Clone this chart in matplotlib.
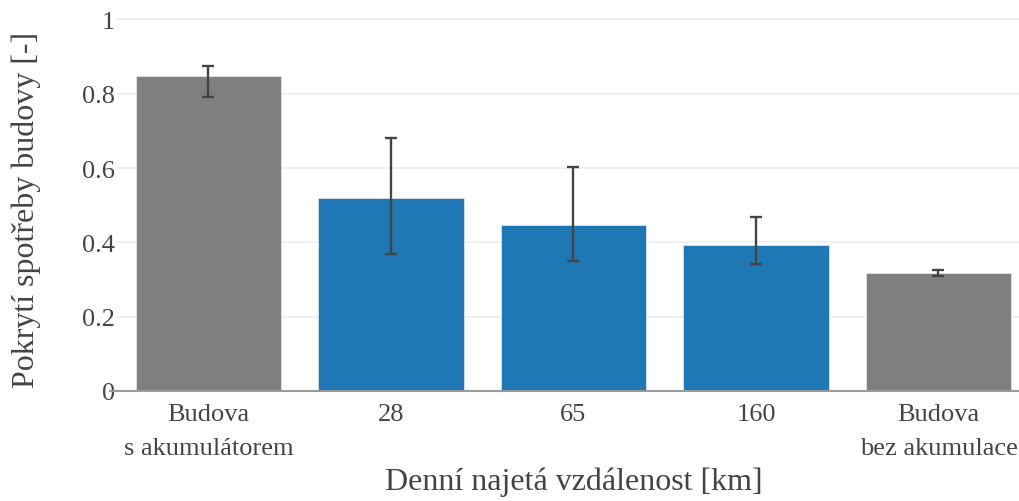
import matplotlib
matplotlib.use("Agg")
import matplotlib.pyplot as plt
from matplotlib.lines import Line2D
import numpy as np

# Data
categories = ["Budova\ns akumulátorem", "28", "65", "160", "Budova\nbez akumulace"]
coverage = [0.849, 0.519, 0.447, 0.393, 0.317]
err_upper = [0.875, 0.681, 0.603, 0.469, 0.325]
err_lower = [0.792, 0.369, 0.349, 0.341, 0.310]
bar_colors = ["#7f7f7f", "#1f77b4", "#1f77b4", "#1f77b4", "#7f7f7f"]
y_ticks = [0, 0.2, 0.4, 0.6, 0.8, 1.0]
y_tick_labels = ["0", "0.2", "0.4", "0.6", "0.8", "1"]

plt.rcParams["font.family"] = ["Liberation Serif", "DejaVu Serif"]
text_color = "#444444"

fig = plt.figure(figsize=(10.2, 5.02), dpi=100)
ax = fig.add_axes([117.25 / 1020, 110 / 502, 912.5 / 1020, 382.7 / 502])

x = np.arange(len(categories))
vals = np.array(coverage)
yerr = np.vstack([vals - np.array(err_lower), np.array(err_upper) - vals])

ax.bar(x, vals, width=0.795, color=bar_colors, edgecolor="#e8eef5",
       linewidth=0.5, zorder=2)
ax.errorbar(x, vals, yerr=yerr, fmt="none", ecolor="#444444",
            elinewidth=1.7, capsize=4.5, capthick=1.7, zorder=3)

ax.set_xlim(-0.5, 4.5)
ax.set_ylim(0, 1.03)
ax.set_yticks(y_ticks)
ax.set_yticklabels(y_tick_labels)
ax.set_xticks(x)
ax.set_xticklabels(categories, linespacing=1.72)

ax.grid(axis="y", color="#eeeeee", linewidth=1.2, zorder=0)
ax.set_axisbelow(True)
for side in ["top", "right", "left", "bottom"]:
    ax.spines[side].set_visible(False)

# zero line, extended slightly to the left as a tick
ax.add_line(Line2D([-0.008, 1.0], [0, 0], transform=ax.transAxes,
                   color="#9a9a9a", linewidth=1.5, clip_on=False, zorder=4))

ax.tick_params(axis="both", length=0, labelsize=19, colors=text_color)
ax.tick_params(axis="y", pad=1.5)
ax.tick_params(axis="x", pad=8.5)

ax.set_xlabel("Denní najetá vzdálenost [km]", fontsize=23, color=text_color)
ax.xaxis.set_label_coords(0.5005, -0.256)
ax.xaxis.label.set_verticalalignment("baseline")

ax.set_ylabel("Pokrytí spotřeby budovy [-]", fontsize=23, color=text_color)
ax.yaxis.set_label_coords(-0.1000, 0.476)
ax.yaxis.label.set_verticalalignment("center")

fig.savefig("out.png", dpi=100)
